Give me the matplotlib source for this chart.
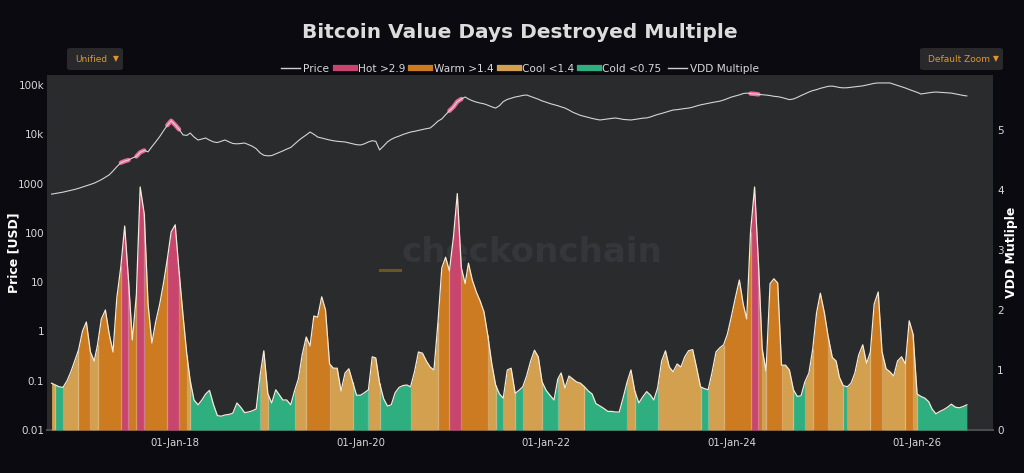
import numpy as np
import pandas as pd
import matplotlib
matplotlib.use('Agg')
import matplotlib.pyplot as plt
import matplotlib.dates as mdates
import matplotlib.ticker as mticker
from matplotlib.lines import Line2D
from matplotlib.patches import FancyBboxPatch
import matplotlib.colors as mcolors

# sampling grid: 1st and 16th of every month
months = pd.date_range('2016-09-01', '2026-07-01', freq='MS')
dates = months.append(months + pd.Timedelta(days=15)).sort_values()

vdd = [0.78, 0.75, 0.72, 0.71, 0.82, 0.97, 1.15, 1.33, 1.65, 1.80,
       1.30, 1.15, 1.42, 1.85, 2.00, 1.60, 1.30, 2.20, 2.73, 3.40,
       2.50, 1.50, 2.25, 4.05, 3.60, 2.10, 1.45, 1.80, 2.10, 2.45,
       2.85, 3.30, 3.42, 2.65, 1.90, 1.25, 0.82, 0.50, 0.42, 0.50,
       0.60, 0.66, 0.42, 0.24, 0.23, 0.25, 0.26, 0.28, 0.45, 0.38,
       0.29, 0.30, 0.32, 0.35, 0.90, 1.32, 0.60, 0.45, 0.67, 0.58,
       0.50, 0.50, 0.42, 0.65, 0.85, 1.25, 1.55, 1.40, 1.90, 1.88,
       2.22, 2.00, 1.10, 1.03, 1.03, 0.65, 0.95, 1.02, 0.80, 0.58,
       0.58, 0.62, 0.67, 1.22, 1.20, 0.78, 0.52, 0.40, 0.42, 0.62,
       0.71, 0.74, 0.75, 0.72, 0.98, 1.30, 1.28, 1.15, 1.05, 1.00,
       1.80, 2.70, 2.88, 2.65, 3.22, 3.94, 2.70, 2.44, 2.78, 2.50,
       2.30, 2.15, 1.97, 1.58, 1.10, 0.75, 0.60, 0.53, 1.00, 1.03,
       0.61, 0.66, 0.72, 0.90, 1.15, 1.33, 1.22, 0.80, 0.66, 0.58,
       0.50, 0.85, 0.95, 0.70, 0.90, 0.85, 0.80, 0.78, 0.72, 0.65,
       0.60, 0.44, 0.40, 0.36, 0.31, 0.31, 0.30, 0.30, 0.55, 0.80,
       1.00, 0.65, 0.45, 0.55, 0.64, 0.58, 0.50, 0.70, 1.15, 1.32,
       1.05, 0.97, 1.10, 1.05, 1.22, 1.32, 1.34, 1.05, 0.72, 0.69,
       0.67, 0.95, 1.30, 1.37, 1.42, 1.60, 1.90, 2.20, 2.50, 2.10,
       1.85, 3.30, 4.05, 2.80, 1.35, 0.98, 2.44, 2.52, 2.45, 1.08,
       1.08, 1.00, 0.67, 0.56, 0.57, 0.80, 0.95, 1.35, 1.95, 2.28,
       1.95, 1.55, 1.21, 1.15, 0.88, 0.74, 0.72, 0.78, 0.95, 1.25,
       1.42, 1.11, 1.30, 2.10, 2.30, 1.30, 1.02, 0.97, 0.90, 1.15,
       1.22, 1.10, 1.82, 1.60, 0.60, 0.56, 0.53, 0.47, 0.35, 0.27,
       0.31, 0.34, 0.38, 0.43, 0.38, 0.37, 0.39, 0.42]

price = [610, 630, 650, 670, 700, 730, 760, 800, 850, 900,
         960, 1020, 1100, 1200, 1350, 1500, 1800, 2200, 2650, 2850,
         3000, 3300, 3550, 4300, 4700, 4400, 5600, 7000, 9000, 11800,
         15300, 18800, 15500, 12600, 9700, 9500, 10600, 8800, 7650, 8000,
         8400, 7600, 7000, 6800, 7200, 7650, 7000, 6500, 6400, 6500,
         6650, 6200, 5700, 5100, 4200, 3750, 3650, 3700, 4000, 4300,
         4600, 5000, 5400, 6300, 7400, 8500, 9700, 11100, 10000, 8800,
         8400, 8000, 7650, 7400, 7200, 7100, 6980, 6700, 6400, 6150,
         6070, 6400, 7000, 7400, 7200, 4810, 5800, 7000, 7900, 8600,
         9200, 9900, 10500, 11100, 11500, 12000, 12500, 13000, 13400, 15500,
         18500, 20500, 25000, 30000, 36000, 46000, 52000, 57100, 52000, 48000,
         45000, 43000, 41500, 39000, 36000, 34000, 38000, 46000, 51000, 54000,
         57100, 59000, 61500, 62700, 58500, 55000, 51500, 47500, 44800, 42000,
         39800, 38000, 36000, 34100, 31000, 28000, 26000, 24200, 23000, 22000,
         21000, 20200, 19500, 20000, 20500, 21000, 21400, 20800, 20000, 19700,
         19500, 20000, 20600, 21200, 21500, 22500, 23800, 25200, 26500, 28000,
         29500, 31100, 31600, 32500, 33300, 34000, 35500, 37500, 39500, 41000,
         42500, 44000, 45500, 47000, 49500, 53000, 57000, 59800, 63000, 67000,
         68500, 67000, 66000, 64500, 63500, 62500, 61000, 59000, 58000, 56000,
         53000, 50500, 52000, 56000, 61000, 66000, 72000, 77000, 80500, 85500,
         90000, 94000, 95000, 92000, 89000, 87500, 88000, 90000, 92500, 94500,
         96000, 100000, 104000, 108000, 110000, 110000, 110000, 110000, 104000, 98000,
         92000, 86900, 81000, 76000, 71000, 65700, 67500, 69500, 71000, 72000,
         71000, 70000, 69500, 68500, 66000, 63500, 61500, 60000]

band_labels = ['Hot >2.9', 'Warm >1.4', 'Cool <1.4', 'Cold <0.75']
band_colors = ['#c8466e', '#cc7b20', '#d2a04e', '#2fae80']
price_ticks = [0.01, 0.1, 1, 10, 100, 1000, 1e4, 1e5]
price_ticklabels = ['0.01', '0.1', '1', '10', '100', '1000', '10k', '100k']

BG = '#0b0a10'
PLOT_BG = '#2a2b2d'
TXT = '#d8d8d8'
W, H = 1024, 473
TOP, BOT = 75, 430


def band(v):
    if v > 2.9:
        return 0
    if v > 1.4:
        return 1
    if v >= 0.75:
        return 2
    return 3


def lighten(c, f=0.35):
    r, g, b = mcolors.to_rgb(c)
    return (r + (1 - r) * f, g + (1 - g) * f, b + (1 - b) * f)


fig = plt.figure(figsize=(W / 100, H / 100), dpi=100, facecolor=BG)
ax = fig.add_axes([47 / W, 1 - BOT / H, 946 / W, (BOT - TOP) / H])
ax.set_facecolor(PLOT_BG)
ax2 = ax.twinx()

# watermark sits on the price axes so the VDD area covers it
ax.text(532 / W, 1 - 253 / H, 'checkonchain', transform=fig.transFigure, ha='center',
        va='center', fontsize=24.5, fontweight='bold', color='#353639', zorder=0)
ax.add_line(Line2D([380 / W, 400 / W], [1 - 270 / H] * 2, transform=fig.transFigure,
                   color='#6e5424', lw=2.2, zorder=0))

# VDD multiple area, coloured by regime
vdd = np.array(vdd)
seg = [band((vdd[i] + vdd[i + 1]) / 2) for i in range(len(vdd) - 1)]
runs = []
start = 0
for i in range(1, len(seg) + 1):
    if i == len(seg) or seg[i] != seg[start]:
        runs.append((start, i, seg[start]))
        start = i
for a, b, k in runs:
    ax2.fill_between(dates[a:b + 1], vdd[a:b + 1], 0, color=band_colors[k], lw=0)
for a, b, k in runs[:-1]:
    ax2.vlines(dates[b], 0, vdd[b], color=lighten(band_colors[k]), lw=0.9, alpha=0.8)
ax2.plot(dates, vdd, color='#f3eadb', lw=0.9)

# price, highlighted where the multiple is hot
price = np.array(price, dtype=float)
hot_pt = np.zeros(len(price), dtype=bool)
for i, k in enumerate(seg):
    if k == 0:
        hot_pt[i] = hot_pt[i + 1] = True
ax.plot(dates, np.where(hot_pt, price, np.nan), color='#f06b9a', lw=3.2,
        solid_capstyle='round')
ax.plot(dates, price, color='#d4d4d4', lw=0.8)

ax.set_yscale('log')
ax.set_ylim(0.01, 10 ** (5 + (85 - TOP) / 49.3))
ax.yaxis.set_major_locator(mticker.FixedLocator(price_ticks))
ax.yaxis.set_major_formatter(mticker.FixedFormatter(price_ticklabels))
ax.yaxis.set_minor_locator(mticker.NullLocator())
ax2.set_ylim(0, (BOT - TOP) / 60)
ax2.set_yticks([0, 1, 2, 3, 4, 5])

ax.set_xlim(pd.Timestamp('2016-08-14'), pd.Timestamp('2026-10-27'))
ax.xaxis.set_major_locator(mdates.YearLocator(2, month=1, day=1))
ax.xaxis.set_major_formatter(mdates.DateFormatter('%d-%b-%y'))

for a in (ax, ax2):
    for s in a.spines.values():
        s.set_visible(False)
    a.tick_params(length=0, colors=TXT, labelsize=7.5)
ax.spines['bottom'].set_visible(True)
ax.spines['bottom'].set_color('#4a4b4d')
ax.spines['bottom'].set_linewidth(1.5)
ax.tick_params(axis='x', pad=6, labelsize=7.3)
ax.tick_params(axis='y', pad=2)
ax2.tick_params(axis='y', pad=3)

mid = 1 - (TOP + BOT) / 2 / H
fig.text(14 / W, mid, 'Price [USD]', rotation=90, ha='center', va='center',
         color='white', fontsize=9, fontweight='bold')
fig.text(1012 / W, mid, 'VDD Mutliple', rotation=90, ha='center', va='center',
         color='white', fontsize=9, fontweight='bold')

fig.text(0.508, 1 - 32 / H, 'Bitcoin Value Days Destroyed Multiple', ha='center', va='center',
         fontsize=14.5, fontweight='bold', color='#dcdcdc')

handles = [Line2D([], [], color='#cfcfcf', lw=1)]
handles += [Line2D([], [], color=c, lw=4.5) for c in band_colors]
handles += [Line2D([], [], color='#cfcfcf', lw=1)]
labels = ['Price'] + band_labels + ['VDD Multiple']
fig.legend(handles, labels, loc='center', bbox_to_anchor=(520 / W, 1 - 69 / H), ncol=6,
           frameon=False, fontsize=7.6, labelcolor=TXT, handlelength=1.8, handletextpad=0.3,
           columnspacing=0.6)

# dropdown buttons
def button(x0, x1, label):
    fig.add_artist(FancyBboxPatch((x0 / W, 1 - 70 / H), (x1 - x0) / W, 22 / H,
                                  boxstyle='round,pad=0,rounding_size=0.004',
                                  transform=fig.transFigure, facecolor='#29292b', edgecolor='none'))
    fig.text((x0 + 8) / W, 1 - 59 / H, label, ha='left', va='center', fontsize=6.5,
             color='#e0962a')
    fig.text((x1 - 7) / W, 1 - 59 / H, '\u25bc', ha='center', va='center', fontsize=5.5,
             color='#e0962a')


button(67, 123, 'Unified')
button(920, 1003, 'Default Zoom')

fig.savefig('out.png', dpi=100, facecolor=BG)
